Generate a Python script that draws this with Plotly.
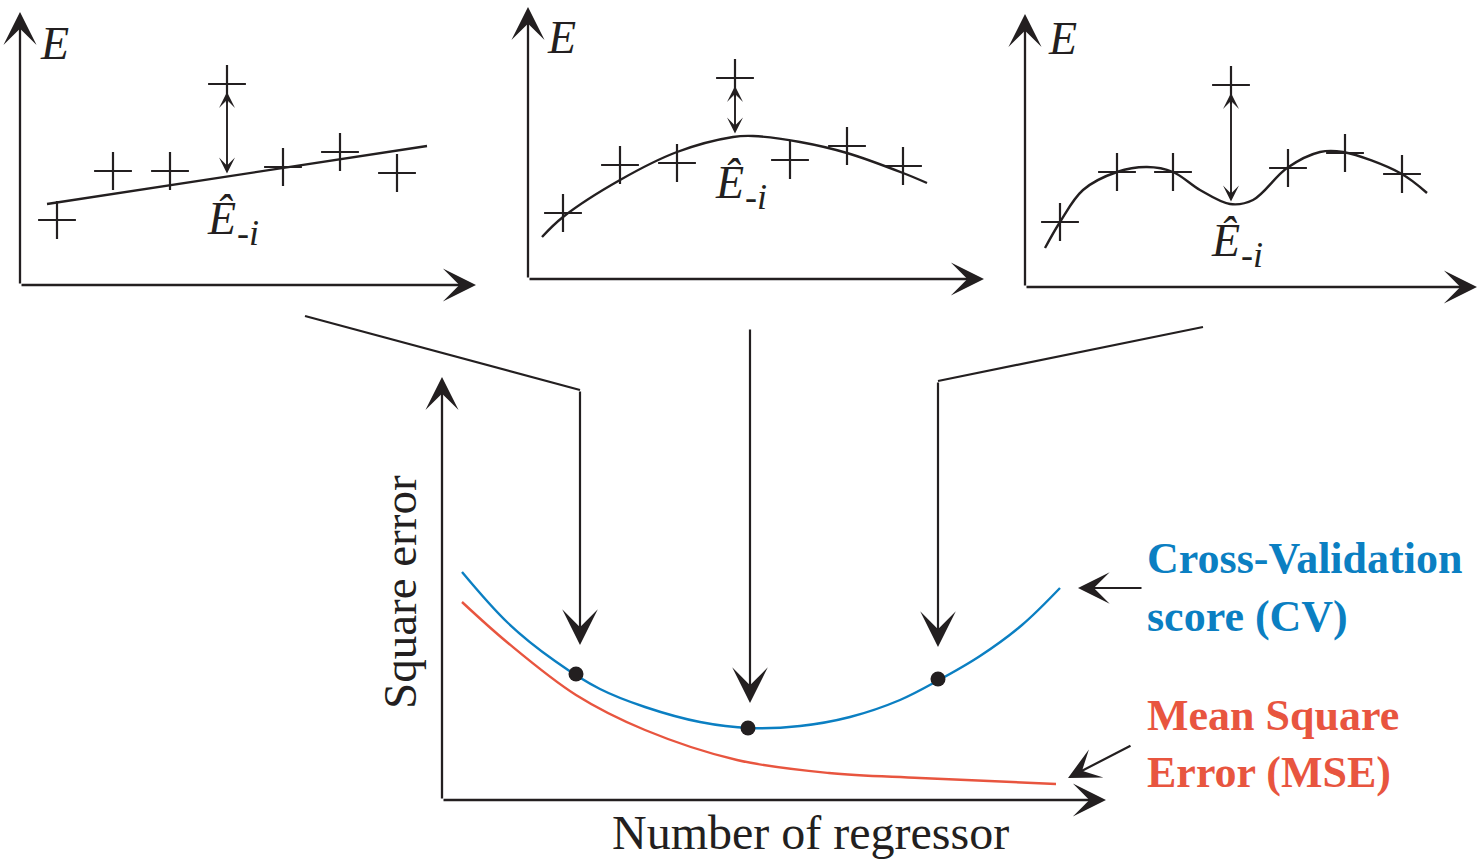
import plotly.graph_objects as go

# ---------------- data (diagram geometry, canvas pixels) -------------
W, H = 1477, 859
INK = "#231f20"
BLUE = "#0b7fc2"
RED = "#e8553f"

# panel 1: linear fit
p1_pts_x = [57, 113, 170, 227, 283, 340, 397]
p1_pts_y = [220, 171, 171, 84, 167, 152, 173]
p1_fit_x = [47, 427]
p1_fit_y = [204, 146]
p1_axis_origin = (20, 285)
p1_axis_ytip = (20, 12)
p1_axis_xtip = (476, 285)
p1_resid = (227, 92, 227, 175)   # x, top tip, x, bottom tip

# panel 2: smooth fit
p2_pts_x = [563, 620, 677, 735, 790, 847, 903]
p2_pts_y = [213, 165, 163, 78, 160, 146, 166]
p2_fit_x = [542, 563, 620, 677, 733, 753, 800, 847, 903, 927]
p2_fit_y = [237, 217, 180, 152, 137, 136, 142, 153, 173, 183]
p2_axis_origin = (528, 279)
p2_axis_ytip = (528, 7)
p2_axis_xtip = (984, 279)
p2_resid = (735, 86, 735, 135)

# panel 3: over-fit
p3_pts_x = [1060, 1117, 1173, 1231, 1288, 1345, 1402]
p3_pts_y = [222, 172, 172, 85, 168, 153, 174]
p3_fit_x = [1045, 1060, 1083, 1117, 1147, 1173, 1200, 1230, 1253, 1287, 1320, 1343, 1400, 1427]
p3_fit_y = [248, 222, 190, 172, 167, 172, 190, 204, 200, 168, 152, 152, 173, 193]
p3_axis_origin = (1025, 287)
p3_axis_ytip = (1025, 14)
p3_axis_xtip = (1477, 287)
p3_resid = (1231, 93, 1231, 203)

# main plot
main_origin = (442, 800)
main_ytip = (442, 377)
main_xtip = (1106, 800)
cv_x = [462, 508, 555, 600, 645, 700, 750, 800, 850, 900, 939, 980, 1022, 1060]
cv_y = [572, 623, 661, 689, 707, 722, 728, 726, 717, 700, 680, 656, 625, 588]
mse_x = [462, 508, 576, 645, 737, 829, 920, 1056]
mse_y = [602, 643, 695, 730, 760, 773, 778, 784]
dot_x = [576, 748, 938]
dot_y = [674, 728, 679]

# connectors from panels to the CV curve
conn_left_x = [305, 580, 580]
conn_left_y = [316, 390, 645]
conn_mid_x = [750, 750]
conn_mid_y = [328, 703]
conn_right_x = [1203, 938, 938]
conn_right_y = [327, 381, 647]

# legend pointer arrows (tail -> tip)
cv_ptr = (1143, 588, 1078, 588)
mse_ptr = (1132, 745, 1068, 778)

# texts
cv_label = ["Cross-Validation", "score (CV)"]
mse_label = ["Mean Square", "Error (MSE)"]
x_title = "Number of regressor"
y_title = "Square error"
panel_ylabel = "E"
fit_label = "Ê"
fit_sub = "-i"

# ---------------- figure --------------------------------------------------------------
fig = go.Figure()
FONT = "Liberation Serif, Times New Roman, serif"


def line(xs, ys, color=INK, width=2.4, shape="linear"):
    fig.add_trace(go.Scatter(x=xs, y=ys, mode="lines", hoverinfo="skip",
                             line=dict(color=color, width=width, shape=shape, smoothing=1.0)))


def pluses(xs, ys):
    fig.add_trace(go.Scatter(x=xs, y=ys, mode="markers", hoverinfo="skip",
                             marker=dict(symbol="cross-thin", size=27, color=INK,
                                         line=dict(color=INK, width=2.2))))


annotations = []


def arrow(tail_x, tail_y, tip_x, tip_y, size=1.8, width=2.2, both=False):
    annotations.append(dict(
        x=tip_x, y=tip_y, ax=tail_x, ay=tail_y, xref="x", yref="y", axref="x", ayref="y",
        text="", showarrow=True, arrowhead=3, arrowsize=size, arrowwidth=width,
        arrowcolor=INK, startarrowhead=3, startarrowsize=size, standoff=0, startstandoff=0,
        arrowside="end+start" if both else "end"))


def text(x, y, s, size, color=INK, bold=False, italic=False, xanchor="center",
         yanchor="middle", angle=0):
    annotations.append(dict(
        x=x, y=y, xref="x", yref="y", text=s, showarrow=False, xanchor=xanchor,
        yanchor=yanchor, textangle=angle,
        font=dict(family=FONT, size=size, color=color,
                  weight="bold" if bold else "normal",
                  style="italic" if italic else "normal")))


# small panels
for origin, ytip, xtip, fx, fy, px, py, resid, shape in [
    (p1_axis_origin, p1_axis_ytip, p1_axis_xtip, p1_fit_x, p1_fit_y, p1_pts_x, p1_pts_y, p1_resid, "linear"),
    (p2_axis_origin, p2_axis_ytip, p2_axis_xtip, p2_fit_x, p2_fit_y, p2_pts_x, p2_pts_y, p2_resid, "spline"),
    (p3_axis_origin, p3_axis_ytip, p3_axis_xtip, p3_fit_x, p3_fit_y, p3_pts_x, p3_pts_y, p3_resid, "spline"),
]:
    arrow(origin[0], origin[1], ytip[0], ytip[1], size=2.4, width=2.3)
    arrow(origin[0], origin[1], xtip[0], xtip[1], size=2.4, width=2.3)
    line(fx, fy, width=2.4, shape=shape)
    pluses(px, py)
    arrow(resid[0], resid[3], resid[2], resid[1], size=1.4, width=1.9, both=True)

# panel labels
text(54, 43, panel_ylabel, 46, italic=True)
text(561, 37, panel_ylabel, 46, italic=True)
text(1062, 38, panel_ylabel, 46, italic=True)
for ex, ey in [(205, 218), (713, 182), (1209, 240)]:
    text(ex, ey, fit_label, 46, italic=True, xanchor="left")
    text(ex + 30, ey + 15, fit_sub, 36, italic=True, xanchor="left")

# connectors
line(conn_left_x[:2], conn_left_y[:2], width=2.2)
arrow(conn_left_x[1], conn_left_y[1], conn_left_x[2], conn_left_y[2], size=2.7, width=2.2)
arrow(conn_mid_x[0], conn_mid_y[0], conn_mid_x[1], conn_mid_y[1], size=2.7, width=2.2)
line(conn_right_x[:2], conn_right_y[:2], width=2.2)
arrow(conn_right_x[1], conn_right_y[1], conn_right_x[2], conn_right_y[2], size=2.7, width=2.2)

# main axes
arrow(main_origin[0], main_origin[1], main_ytip[0], main_ytip[1], size=2.4, width=2.3)
arrow(main_origin[0], main_origin[1], main_xtip[0], main_xtip[1], size=2.4, width=2.3)

# main curves
line(cv_x, cv_y, color=BLUE, width=2.4, shape="spline")
line(mse_x, mse_y, color=RED, width=2.4, shape="spline")
fig.add_trace(go.Scatter(x=dot_x, y=dot_y, mode="markers", hoverinfo="skip",
                         marker=dict(size=15, color=INK)))

# pointers to legends
arrow(*cv_ptr, size=2.4, width=2.2)
arrow(*mse_ptr, size=2.4, width=2.2)

# legend texts
text(1145, 558, cv_label[0], 44, color=BLUE, bold=True, xanchor="left")
text(1145, 616, cv_label[1], 44, color=BLUE, bold=True, xanchor="left")
text(1145, 715, mse_label[0], 44, color=RED, bold=True, xanchor="left")
text(1145, 772, mse_label[1], 44, color=RED, bold=True, xanchor="left")

# axis titles
text(810, 832, x_title, 48)
text(400, 592, y_title, 47, angle=-90)

fig.update_layout(
    width=W, height=H, margin=dict(l=0, r=0, t=0, b=0),
    paper_bgcolor="white", plot_bgcolor="white", showlegend=False,
    xaxis=dict(range=[0, W], visible=False, fixedrange=True),
    yaxis=dict(range=[H, 0], visible=False, fixedrange=True),
    annotations=annotations,
)

fig.write_html("out.html", config={"displayModeBar": False},
               post_script="document.body.style.margin='0';document.body.style.overflow='hidden';")
